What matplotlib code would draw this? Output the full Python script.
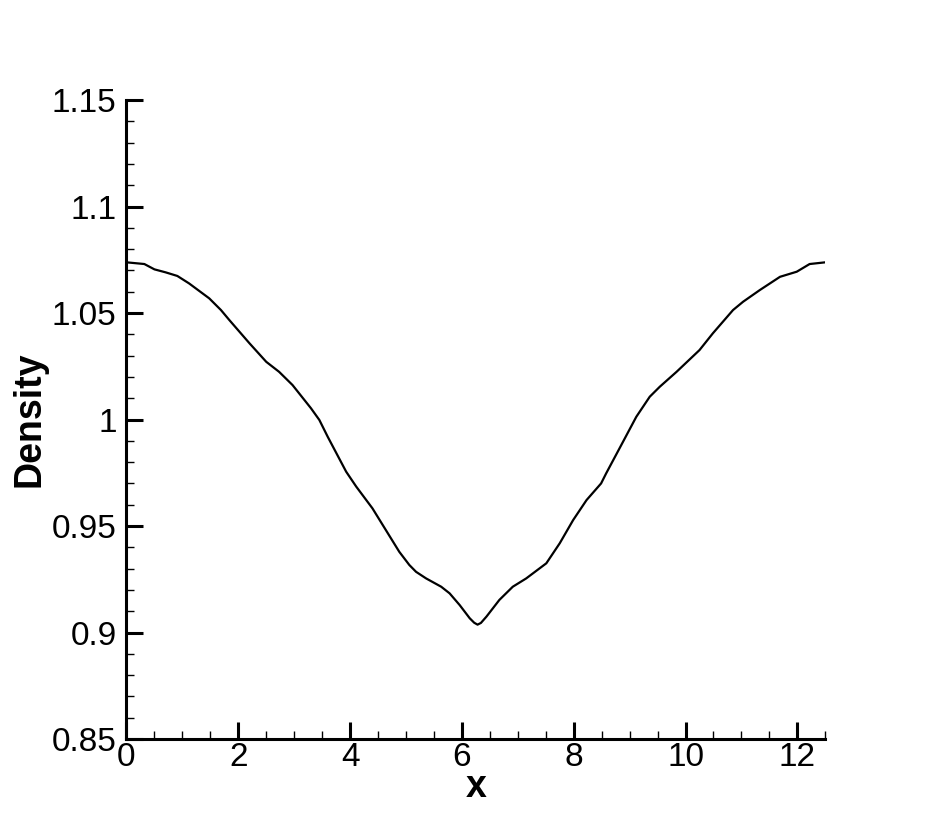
import numpy as np
import matplotlib.pyplot as plt
from matplotlib.ticker import MultipleLocator, FuncFormatter

# density profile
x = [0.0, 0.32, 0.50, 0.70, 0.91, 1.12, 1.48, 1.69, 1.84, 2.20, 2.50, 2.73,
     2.97, 3.30, 3.45, 3.60, 3.93, 4.11, 4.40, 4.64, 4.88, 5.06, 5.18, 5.36,
     5.63, 5.78, 5.96, 6.14, 6.22, 6.28, 6.34, 6.44, 6.67, 6.91, 7.15, 7.51,
     7.75, 7.99, 8.23, 8.49, 8.58, 8.82, 9.12, 9.36, 9.54, 9.84, 10.25, 10.49,
     10.85, 11.03, 11.33, 11.69, 11.99, 12.22, 12.5]
density = [1.0738, 1.0730, 1.0705, 1.0691, 1.0674, 1.0639, 1.0569, 1.0514,
           1.0467, 1.0358, 1.0271, 1.0224, 1.0162, 1.0053, 0.9998, 0.9919,
           0.9755, 0.9685, 0.9583, 0.9481, 0.9379, 0.9317, 0.9285, 0.9254,
           0.9215, 0.9184, 0.9129, 0.9067, 0.9046, 0.9037, 0.9045, 0.9075,
           0.9153, 0.9215, 0.9254, 0.9325, 0.9419, 0.9528, 0.9622, 0.9700,
           0.9747, 0.9865, 1.0013, 1.0107, 1.0154, 1.0224, 1.0326, 1.0405,
           1.0514, 1.0553, 1.0608, 1.0670, 1.0694, 1.0730, 1.0738]

plt.rcParams['font.family'] = ['Liberation Sans', 'DejaVu Sans']

fig = plt.figure(figsize=(9.34, 8.3), dpi=100)
ax = fig.add_axes([0.1354, 0.1096, 0.8836 - 0.1354, 0.8795 - 0.1096])

ax.plot(x, density, color='black', lw=1.6, solid_joinstyle='round')

ax.set_xlim(0, 12.5)
ax.set_ylim(0.85, 1.15)

ax.spines['top'].set_visible(False)
ax.spines['right'].set_visible(False)
for s in ['left', 'bottom']:
    ax.spines[s].set_linewidth(2.2)

ax.xaxis.set_major_locator(MultipleLocator(2))
ax.xaxis.set_minor_locator(MultipleLocator(0.5))
ax.yaxis.set_major_locator(MultipleLocator(0.05))
ax.yaxis.set_minor_locator(MultipleLocator(0.01))
ax.yaxis.set_major_formatter(FuncFormatter(lambda v, p: f'{v:g}'))
ax.xaxis.set_major_formatter(FuncFormatter(lambda v, p: f'{v:g}'))

ax.tick_params(which='major', direction='in', length=12, width=2.2,
               labelsize=24, pad=7)
ax.tick_params(which='minor', direction='in', length=6, width=1)
ax.tick_params(axis='x', which='major', pad=2)

ax.set_xlabel('x', fontsize=27, fontweight='bold', labelpad=-3)
ax.set_ylabel('Density', fontsize=27, fontweight='bold', labelpad=3)

fig.savefig('out.png', dpi=100)
